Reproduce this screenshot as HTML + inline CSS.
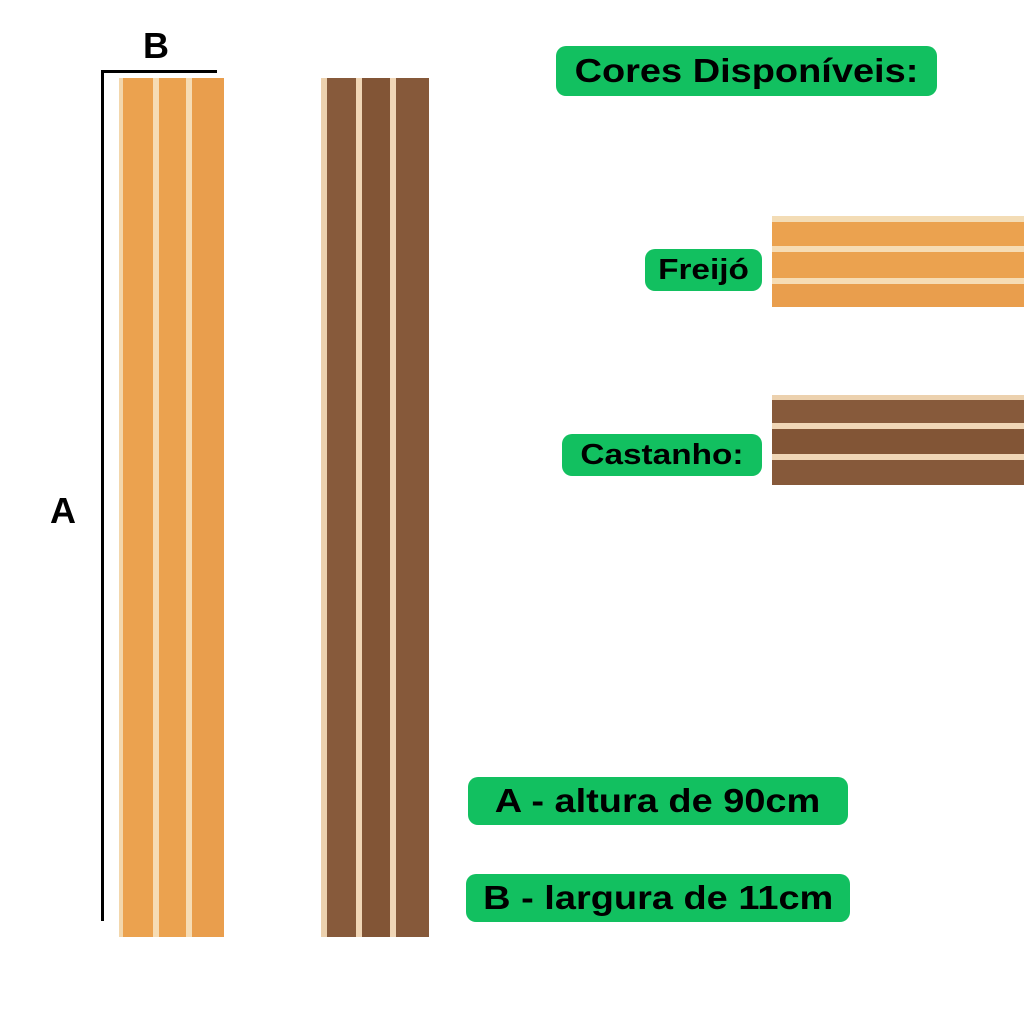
<!DOCTYPE html>
<html><head><meta charset="utf-8"><style>
body{margin:0;width:1024px;height:1024px;background:#fff;position:relative;overflow:hidden;font-family:"Liberation Sans",sans-serif}
.a{position:absolute}
.pill{position:absolute;background:#12c060;border-radius:10px;color:#000;font-weight:bold;display:flex;align-items:center;justify-content:center;white-space:nowrap}
.pill span{display:inline-block;transform:scaleX(1.15)}
</style></head><body>
<div class="a" style="left:101px;top:70px;width:3px;height:851px;background:#000"></div>
<div class="a" style="left:101px;top:70px;width:116px;height:3px;background:#000"></div>
<div class="a" style="left:143px;top:25px;font-size:36px;font-weight:bold">B</div>
<div class="a" style="left:50px;top:490px;font-size:36px;font-weight:bold">A</div>

<div class="a" style="left:119px;top:78px;width:105px;height:859px;background:linear-gradient(90deg,#f3d7ac 0 4px,#eba24f 4px 34px,#f6dcb4 34px 40px,#eba24f 40px 67px,#f6dcb4 67px 73px,#e99e4d 73px)"></div>
<div class="a" style="left:321px;top:78px;width:108px;height:859px;background:linear-gradient(90deg,#ecd1ae 0 6px,#875a3b 6px 35px,#f0d6b6 35px 41px,#825536 41px 69px,#f0d6b6 69px 75px,#86593a 75px)"></div>

<div class="pill" style="left:556px;top:46px;width:381px;height:50px;font-size:33px"><span>Cores Disponíveis:</span></div>

<div class="a" style="left:772px;top:216px;width:252px;height:91px;background:linear-gradient(180deg,#f3dcb5 0 6px,#eba24f 6px 30px,#f6dcb4 30px 36px,#eba24f 36px 62px,#f6dcb4 62px 68px,#e99e4d 68px)"></div>
<div class="pill" style="left:645px;top:249px;width:117px;height:42px;font-size:29px"><span>Freijó</span></div>

<div class="a" style="left:772px;top:395px;width:252px;height:90px;background:linear-gradient(180deg,#ecd1ae 0 5px,#875a3b 5px 28px,#f0d6b6 28px 34px,#825536 34px 59px,#f0d6b6 59px 65px,#86593a 65px)"></div>
<div class="pill" style="left:562px;top:434px;width:200px;height:42px;font-size:29px"><span>Castanho:</span></div>

<div class="pill" style="left:468px;top:777px;width:380px;height:48px;font-size:33px"><span>A - altura de 90cm</span></div>
<div class="pill" style="left:466px;top:874px;width:384px;height:48px;font-size:33px"><span>B - largura de 11cm</span></div>
</body></html>
